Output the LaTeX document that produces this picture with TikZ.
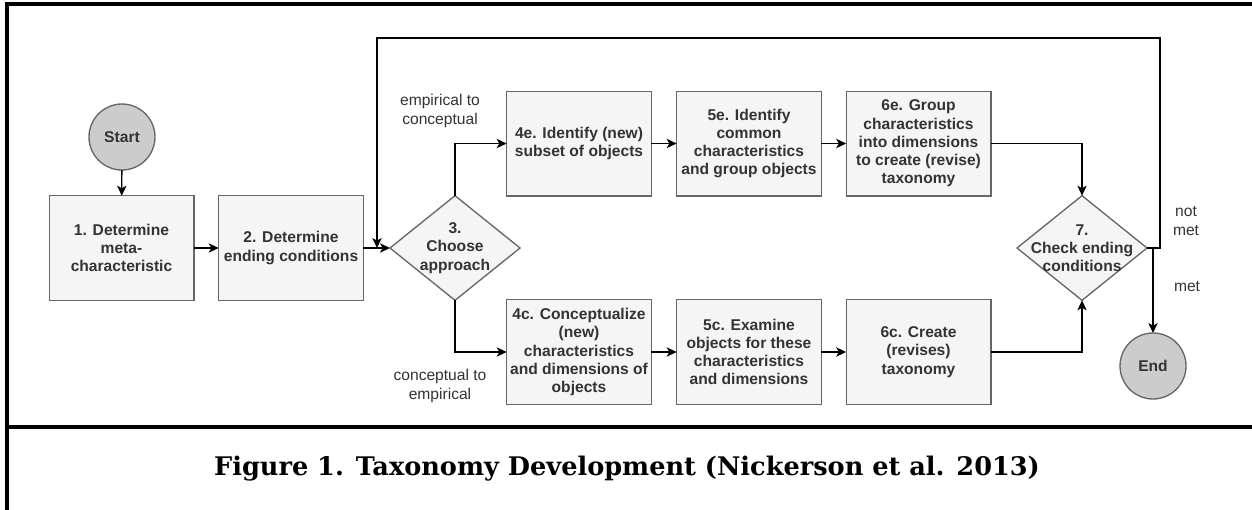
\documentclass[tikz,border=0pt]{standalone}
\usepackage{fontspec}
\setsansfont{Liberation Sans}
\newfontfamily\captionfont{DejaVu Serif}
\usetikzlibrary{shapes.geometric,arrows.meta}
\definecolor{boxfill}{HTML}{F5F5F5}
\definecolor{boxline}{HTML}{666666}
\definecolor{termfill}{HTML}{CCCCCC}
\definecolor{txt}{HTML}{333333}
\begin{document}
\begin{tikzpicture}[x=0.75pt,y=-0.75pt,
  every node/.style={inner sep=0pt, outer sep=0pt},
  stepbox/.style={draw=boxline, line width=1pt, fill=boxfill,
    minimum width=108.5pt, minimum height=78.5pt, align=center,
    text=txt, font=\sffamily\bfseries\fontsize{11.7}{13.7}\selectfont},
  decision/.style={draw=boxline, line width=1pt, fill=boxfill, diamond,
    minimum width=97.5pt, minimum height=78.5pt},
  dtext/.style={align=center, text=txt,
    font=\sffamily\bfseries\fontsize{11.7}{13.7}\selectfont},
  terminal/.style={draw=boxline, line width=1pt, fill=termfill, circle,
    minimum size=49.5pt, text=txt,
    font=\sffamily\bfseries\fontsize{11.7}{13.7}\selectfont},
  edgelabel/.style={align=center, text=txt,
    font=\sffamily\fontsize{11.7}{13.7}\selectfont},
  flow/.style={draw=black, line width=1pt,
    -{Stealth[length=7.5pt,width=7pt,inset=2pt]}},
  frameline/.style={draw=black, line width=2.5pt}]

\useasboundingbox (0,0) rectangle (1252,510);

% outer frame and caption separator
\coordinate (fTL) at (7,4);
\coordinate (fTR) at (1252,4);
\coordinate (fBL) at (7,510);
\coordinate (sL) at (7,427);
\coordinate (sR) at (1252,427);
\draw[frameline] (fTR) -- (fTL) -- (fBL);
\draw[frameline] (sL) -- (sR);

% terminals
\node[terminal] (start) at (122,137) {Start};
\node[terminal] (finish) at (1153,366) {End};

% first steps
\node[stepbox] (b1) at (121.5,248) {1. Determine\\meta-\\characteristic};
\node[stepbox] (b2) at (291,248) {2. Determine\\ending conditions};

% decisions
\node[decision, label={[dtext]center:{3.\\Choose\\approach}}] (d3) at (455,248) {};
\node[decision, label={[dtext]center:{7.\\Check ending\\conditions}}] (d7) at (1082,248) {};

% empirical-to-conceptual branch
\node[stepbox] (e4) at (579,143.5) {4e. Identify (new)\\subset of objects};
\node[stepbox] (e5) at (749,143.5) {5e. Identify\\common\\characteristics\\and group objects};
\node[stepbox] (e6) at (918.5,143.5) {6e. Group\\characteristics\\into dimensions\\to create (revise)\\taxonomy};

% conceptual-to-empirical branch
\node[stepbox] (c4) at (579,352) {4c. Conceptualize\\(new)\\characteristics\\and dimensions of\\objects};
\node[stepbox] (c5) at (749,352) {5c. Examine\\objects for these\\characteristics\\and dimensions};
\node[stepbox] (c6) at (918.5,352) {6c. Create\\(revises)\\taxonomy};

% edge labels
\node[edgelabel] (lemp) at (440,111) {empirical to\\conceptual};
\node[edgelabel] (lcon) at (440,386) {conceptual to\\empirical};
\node[edgelabel] (lnot) at (1186,221) {not\\met};
\node[edgelabel] (lmet) at (1187,287) {met};

% connectors
\draw[flow] (start) -- (b1);
\draw[flow] (b1) -- (b2);
\draw[flow] (b2) -- (d3.west);
\draw[flow] (d3.north) |- (e4.west);
\draw[flow] (e4) -- (e5);
\draw[flow] (e5) -- (e6);
\draw[flow] (e6.east) -| (d7.north);
\draw[flow] (d3.south) |- (c4.west);
\draw[flow] (c4) -- (c5);
\draw[flow] (c5) -- (c6);
\draw[flow] (c6.east) -| (d7.south);
\draw[flow] (d7.east) -| (finish.north);

% loop back when the ending conditions are not met
\coordinate (loopTR) at (1160,38);
\coordinate (loopTL) at (377,38);
\coordinate (loopIn) at (377,248);
\draw[flow] (d7.east) -| (loopTR) -- (loopTL) -- (loopIn);

% caption
\node[font=\captionfont\bfseries\fontsize{19.2}{22}\selectfont] (cap) at (627,469)
  {Figure 1. Taxonomy Development (Nickerson et al. 2013)};
\end{tikzpicture}
\end{document}
